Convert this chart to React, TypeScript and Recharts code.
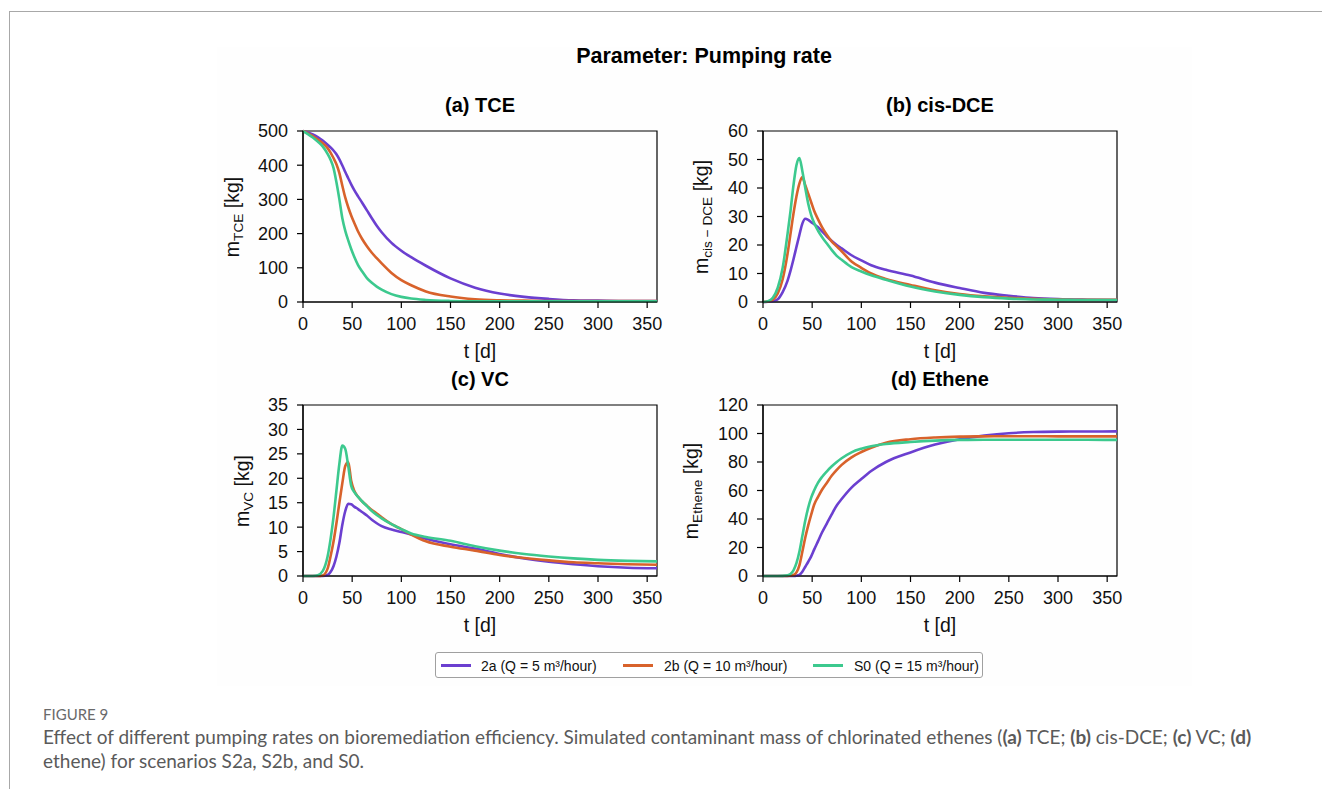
import React from 'react';
import { LineChart, Line, XAxis, YAxis, ReferenceArea } from 'recharts';

const days = [0, 5, 10, 15, 20, 25, 28, 31, 34, 37, 40, 43, 46, 49, 52, 56, 60, 65, 70, 75, 80, 90, 100, 110, 125, 150, 175, 200, 225, 250, 275, 300, 330, 360];

// (a) TCE
const tce2a = [500, 496, 490, 482, 472, 460, 452, 443, 432, 417, 399, 380, 362, 344, 328, 309, 291, 268, 245, 223, 204, 173, 150, 131, 106, 69, 42, 25, 15, 9, 5, 4, 3, 3];
const tce2b = [500, 493, 485, 475, 464, 450, 437, 421, 403, 377, 340, 305, 277, 253, 232, 206, 185, 163, 144, 128, 113, 85, 64, 49, 31, 16, 8, 5, 4, 3, 3, 3, 3, 3];
const tceS0 = [500, 491, 481, 469, 455, 433, 416, 392, 350, 300, 245, 208, 180, 155, 133, 108, 90, 70, 56, 45, 36, 23, 15, 10, 6, 3, 2, 2, 2, 2, 2, 2, 2, 2];

// (b) cis-DCE
const dce2a = [0, 0.1, 0.3, 1, 3.5, 7.5, 11, 15, 19.3, 23.5, 27.5, 29.2, 28.8, 28, 27.3, 26.2, 24.8, 23, 21.4, 20, 18.8, 16.4, 14.6, 12.9, 11.3, 9.3, 6.8, 4.9, 3.2, 2.2, 1.4, 1, 0.8, 0.7];
const dce2b = [0, 0.2, 0.8, 3, 8, 17, 24, 31, 37, 41.5, 43.8, 41, 38, 35, 32, 29, 26.3, 23.5, 21.2, 19.5, 17.8, 14.2, 12, 10, 8.1, 6, 4.1, 2.8, 2, 1.5, 1.1, 0.9, 0.8, 0.8];
const dceS0 = [0, 0.3, 1.5, 5, 12, 24, 32, 41, 48, 50.5, 46, 40, 34.5, 30.5, 27.7, 25, 22.8, 20.5, 18.2, 16.2, 14.8, 12.2, 10.7, 9.4, 7.8, 5.4, 3.7, 2.5, 1.7, 1.2, 0.9, 0.8, 0.7, 0.7];

// (c) VC
const vc2a = [0, 0, 0, 0, 0, 0.2, 0.8, 2, 4, 6.8, 10.5, 13.3, 14.8, 14.7, 14.2, 13.7, 13.1, 12.4, 11.5, 10.8, 10.2, 9.5, 9, 8.5, 7.6, 6.5, 5.6, 4.5, 3.6, 2.9, 2.4, 2, 1.7, 1.6];
const vc2b = [0, 0, 0, 0, 0.1, 1.5, 4, 7, 10.8, 15, 19, 22.5, 23.3, 19.5, 17.5, 16.2, 15.3, 14.4, 13.5, 12.8, 12, 10.6, 9.6, 8.5, 7.1, 6, 5.2, 4.3, 3.7, 3.2, 2.8, 2.6, 2.4, 2.3];
const vcS0 = [0, 0, 0, 0.15, 1, 4, 7.5, 12, 17.5, 23, 26.7, 26, 22.5, 18.5, 17.2, 16.2, 15.3, 14.3, 13.3, 12.5, 11.8, 10.6, 9.6, 8.7, 8, 7.2, 6.1, 5.2, 4.5, 4, 3.6, 3.3, 3.1, 3];

// (d) Ethene
const eth2a = [0, 0, 0, 0, 0, 0, 0, 0, 0.2, 0.8, 3, 6.5, 10, 13.8, 18.5, 24.5, 30.5, 37, 43.5, 49.5, 54, 62, 68, 73.7, 80, 86.7, 92.2, 96, 98.5, 100.2, 101, 101.3, 101.4, 101.5];
const eth2b = [0, 0, 0, 0, 0, 0.1, 0.3, 0.7, 2.5, 7.5, 17, 27, 35.5, 43, 50, 55.5, 60.5, 65.5, 70.5, 74.5, 78, 83.3, 87, 90, 93.5, 96, 97.2, 97.8, 98, 98.1, 98.1, 98, 98, 98];
const ethS0 = [0, 0, 0, 0, 0.1, 0.5, 1.4, 4, 9, 17, 28, 39, 48, 55, 60, 65.5, 69.5, 73.5, 77, 80, 82.6, 86.8, 89.3, 91, 92.6, 94, 95, 95.5, 95.6, 95.6, 95.6, 95.6, 95.6, 95.5];

const xTicks = [0, 50, 100, 150, 200, 250, 300, 350];
const tceTicks = [0, 100, 200, 300, 400, 500];
const dceTicks = [0, 10, 20, 30, 40, 50, 60];
const vcTicks = [0, 5, 10, 15, 20, 25, 30, 35];
const ethTicks = [0, 20, 40, 60, 80, 100, 120];

const seriesNames = ['2a (Q = 5 m³/hour)', '2b (Q = 10 m³/hour)', 'S0 (Q = 15 m³/hour)'];
const colors = ['#6b3fd0', '#d8622b', '#3cc98e'];

const FONT = '"Liberation Sans", Arial, Helvetica, sans-serif';
const CAP_FONT = 'Lato, "Open Sans", sans-serif';
const PW = 354;
const PH = 171;
const ML = 70;
const MT = 10;
const MR = 20;
const XH = 45;

type PanelProps = {
  left: number;
  top: number;
  title: string;
  sub: string;
  yLabelX: number;
  yMax: number;
  yTicks: number[];
  s: number[][];
};

function Panel({ left, top, title, sub, yLabelX, yMax, yTicks, s }: PanelProps) {
  const data = days.map((d, i) => ({ t: d, a: s[0][i], b: s[1][i], c: s[2][i] }));
  const W = ML + PW + MR;
  const H = MT + PH + XH;
  const tickStyle = { fontSize: 18, fill: '#111', fontFamily: FONT };
  return (
    <>
      <div style={{ position: 'absolute', left: left - ML, top: top - MT, width: W, height: H }}>
        <LineChart width={W} height={H} data={data} margin={{ top: MT, right: MR, bottom: 0, left: 0 }}>
          <XAxis
            dataKey="t"
            type="number"
            domain={[0, 360]}
            ticks={xTicks}
            interval={0}
            height={XH}
            tickSize={6}
            tickMargin={9}
            tick={tickStyle}
            axisLine={{ stroke: '#000', strokeWidth: 1.2 }}
            tickLine={{ stroke: '#000', strokeWidth: 1.2 }}
          />
          <YAxis
            type="number"
            domain={[0, yMax]}
            ticks={yTicks}
            interval={0}
            width={ML}
            tickSize={6}
            tickMargin={9}
            tick={tickStyle}
            axisLine={{ stroke: '#000', strokeWidth: 1.2 }}
            tickLine={{ stroke: '#000', strokeWidth: 1.2 }}
          />
          <ReferenceArea x1={0} x2={360} y1={0} y2={yMax} fill="none" fillOpacity={0} stroke="#000" strokeWidth={1.2} ifOverflow="visible" />
          <Line dataKey="a" type="monotone" stroke={colors[0]} strokeWidth={2.6} dot={false} isAnimationActive={false} />
          <Line dataKey="b" type="monotone" stroke={colors[1]} strokeWidth={2.6} dot={false} isAnimationActive={false} />
          <Line dataKey="c" type="monotone" stroke={colors[2]} strokeWidth={2.6} dot={false} isAnimationActive={false} />
        </LineChart>
      </div>
      <div style={{ position: 'absolute', left: left + PW / 2, top: top - 26, transform: 'translate(-50%,-50%)', fontFamily: FONT, fontWeight: 'bold', fontSize: 20, lineHeight: 1, whiteSpace: 'nowrap', color: '#000' }}>
        {title}
      </div>
      <div style={{ position: 'absolute', left: left + PW / 2, top: top + PH + 50, transform: 'translate(-50%,-50%)', fontFamily: FONT, fontSize: 19.5, lineHeight: 1, whiteSpace: 'nowrap', color: '#111' }}>
        t [d]
      </div>
      <div style={{ position: 'absolute', left: yLabelX, top: top + PH / 2, transform: 'translate(-50%,-50%) rotate(-90deg)', fontFamily: FONT, fontSize: 19.5, lineHeight: 1, whiteSpace: 'nowrap', color: '#111' }}>
        m<span style={{ fontSize: '0.7em', position: 'relative', top: '0.3em' }}>{sub}</span> [kg]
      </div>
    </>
  );
}

export default function App() {
  return (
    <div style={{ position: 'absolute', left: 0, top: 0, width: 1322, height: 789, background: '#fff', overflow: 'hidden' }}>
      {/* page frame */}
      <div style={{ position: 'absolute', left: 9, top: 11, width: 1313, height: 0, borderTop: '1.5px solid #a8a8a8' }} />
      <div style={{ position: 'absolute', left: 9, top: 11, width: 0, height: 778, borderLeft: '1.5px solid #a8a8a8' }} />
      {/* figure image background */}
      <div style={{ position: 'absolute', left: 217, top: 47, width: 975, height: 639, background: '#fefefe' }} />

      <div style={{ position: 'absolute', left: 704, top: 57, transform: 'translate(-50%,-50%)', fontFamily: FONT, fontWeight: 'bold', fontSize: 21.5, lineHeight: 1, whiteSpace: 'nowrap', color: '#000' }}>
        Parameter: Pumping rate
      </div>

      <Panel left={303} top={131} title="(a) TCE" sub="TCE" yLabelX={233} yMax={500} yTicks={tceTicks} s={[tce2a, tce2b, tceS0]} />
      <Panel left={763} top={131} title="(b) cis-DCE" sub="cis − DCE" yLabelX={702} yMax={60} yTicks={dceTicks} s={[dce2a, dce2b, dceS0]} />
      <Panel left={303} top={405} title="(c) VC" sub="VC" yLabelX={243} yMax={35} yTicks={vcTicks} s={[vc2a, vc2b, vcS0]} />
      <Panel left={763} top={405} title="(d) Ethene" sub="Ethene" yLabelX={692} yMax={120} yTicks={ethTicks} s={[eth2a, eth2b, ethS0]} />

      {/* legend */}
      <div style={{ position: 'absolute', left: 435, top: 652, width: 548, height: 26, boxSizing: 'border-box', border: '1.5px solid #a0a0a0', borderRadius: 3, background: '#fff' }} />
      {seriesNames.map((name, i) => {
        const lx = [441, 623, 813][i];
        const tx = [481, 664, 854][i];
        return (
          <React.Fragment key={name}>
            <div style={{ position: 'absolute', left: lx, top: 664, width: 30, height: 3, background: colors[i] }} />
            <div style={{ position: 'absolute', left: tx, top: 665.5, transform: 'translateY(-50%)', fontFamily: FONT, fontSize: 14, lineHeight: 1, whiteSpace: 'nowrap', color: '#111' }}>
              {name}
            </div>
          </React.Fragment>
        );
      })}

      {/* caption */}
      <div style={{ position: 'absolute', left: 43, top: 714, transform: 'translateY(-50%)', fontFamily: CAP_FONT, fontSize: 15, lineHeight: 1, color: '#6a6a6a', whiteSpace: 'nowrap' }}>
        FIGURE 9
      </div>
      <div style={{ position: 'absolute', left: 43, top: 725, fontFamily: CAP_FONT, fontSize: 19, lineHeight: '24px', color: '#5a5a5a', whiteSpace: 'nowrap' }}>
        Effect of different pumping rates on bioremediation efficiency. Simulated contaminant mass of chlorinated ethenes (<b>(a)</b> TCE; <b>(b)</b> cis-DCE; <b>(c)</b> VC; <b>(d)</b>
        <br />
        ethene) for scenarios S2a, S2b, and S0.
      </div>
    </div>
  );
}
